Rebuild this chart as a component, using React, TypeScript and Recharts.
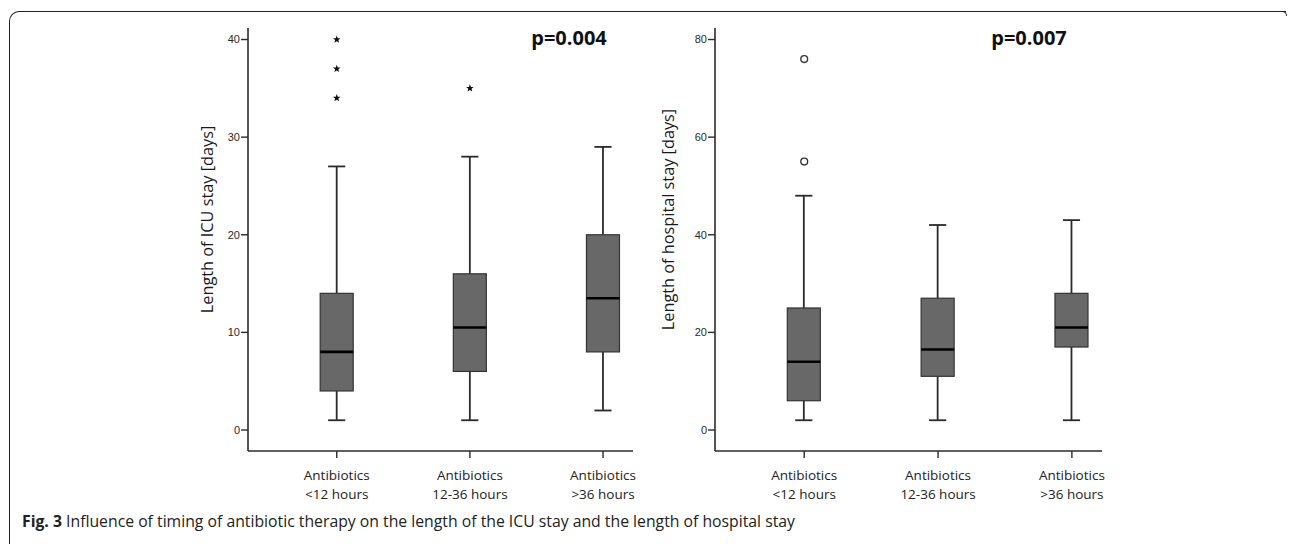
import React from 'react';
import { ComposedChart, Bar, Scatter, XAxis, YAxis, Label } from 'recharts';

// ---- data ----
const groupLine1 = ['Antibiotics', 'Antibiotics', 'Antibiotics'];
const groupLine2 = ['<12 hours', '12-36 hours', '>36 hours'];

const icuMin = [1, 1, 2];
const icuQ1 = [4, 6, 8];
const icuMedian = [8, 10.5, 13.5];
const icuQ3 = [14, 16, 20];
const icuMax = [27, 28, 29];
const icuOutliers = [[34, 37, 40], [35], []];
const icuTicks = [0, 10, 20, 30, 40];

const hospMin = [2, 2, 2];
const hospQ1 = [6, 11, 17];
const hospMedian = [14, 16.5, 21];
const hospQ3 = [25, 27, 28];
const hospMax = [48, 42, 43];
const hospOutliers = [[55, 76], [], []];
const hospTicks = [0, 20, 40, 60, 80];

const pIcu = 'p=0.004';
const pHosp = 'p=0.007';
const yLabelIcu = 'Length of ICU stay [days]';
const yLabelHosp = 'Length of hospital stay [days]';
const captionBold = 'Fig. 3';
const captionText = ' Influence of timing of antibiotic therapy on the length of the ICU stay and the length of hospital stay';

const buildRows = (mn: number[], q1: number[], md: number[], q3: number[], mx: number[]) =>
  groupLine1.map((_, i) => ({ x: i + 1, box: [q1[i], q3[i]], min: mn[i], q1: q1[i], median: md[i], q3: q3[i], max: mx[i] }));
const buildOutliers = (o: number[][]) => o.flatMap((vals, i) => vals.map((v) => ({ x: i + 1, y: v })));

const icuRows = buildRows(icuMin, icuQ1, icuMedian, icuQ3, icuMax);
const hospRows = buildRows(hospMin, hospQ1, hospMedian, hospQ3, hospMax);
const icuOut = buildOutliers(icuOutliers);
const hospOut = buildOutliers(hospOutliers);

const FONT = '"Open Sans", sans-serif';
const DARK = '#2b2b2b';

const BoxShape = (props: any) => {
  const { x, y, width, height, payload } = props;
  if (payload == null || height == null) return null;
  const k = height / (payload.q3 - payload.q1);
  const toY = (v: number) => y + (payload.q3 - v) * k;
  const cx = x + width / 2;
  const cap = width * 0.26;
  return (
    <g>
      <line x1={cx} x2={cx} y1={toY(payload.max)} y2={y} stroke={DARK} strokeWidth={1.8} />
      <line x1={cx} x2={cx} y1={y + height} y2={toY(payload.min)} stroke={DARK} strokeWidth={1.8} />
      <line x1={cx - cap} x2={cx + cap} y1={toY(payload.max)} y2={toY(payload.max)} stroke={DARK} strokeWidth={1.8} />
      <line x1={cx - cap} x2={cx + cap} y1={toY(payload.min)} y2={toY(payload.min)} stroke={DARK} strokeWidth={1.8} />
      <rect x={x} y={y} width={width} height={height} fill="#686868" stroke="#333" strokeWidth={1.2} />
      <line x1={x} x2={x + width} y1={toY(payload.median)} y2={toY(payload.median)} stroke="#000" strokeWidth={2.6} />
    </g>
  );
};

const StarShape = (props: any) => {
  const { cx, cy } = props;
  if (cx == null || cy == null) return null;
  const pts: string[] = [];
  for (let i = 0; i < 10; i++) {
    const r = i % 2 === 0 ? 4 : 1.7;
    const a = -Math.PI / 2 + (i * Math.PI) / 5;
    pts.push(`${cx + r * Math.cos(a)},${cy + r * Math.sin(a)}`);
  }
  return <polygon points={pts.join(' ')} fill="#111" />;
};

const CircleShape = (props: any) => {
  const { cx, cy } = props;
  if (cx == null || cy == null) return null;
  return <circle cx={cx} cy={cy} r={3.4} fill="#fff" stroke="#333" strokeWidth={1.4} />;
};

const XTick = (props: any) => {
  const { x, y, payload } = props;
  const i = Math.round(payload.value) - 1;
  if (i < 0 || i > 2) return null;
  return (
    <g>
      <text x={x} y={y + 20} textAnchor="middle" fontSize={13.5} fill="#222" fontFamily={FONT}>{groupLine1[i]}</text>
      <text x={x} y={y + 39} textAnchor="middle" fontSize={13.5} fill="#222" fontFamily={FONT}>{groupLine2[i]}</text>
    </g>
  );
};

const makeYLabel = (text: string, dx: number, dy: number) => (props: any) => {
  const vb = props.viewBox || {};
  const cx = vb.x + vb.width / 2 + dx;
  const cy = vb.y + vb.height / 2 + dy;
  return (
    <text x={cx} y={cy} transform={`rotate(-90 ${cx} ${cy})`} textAnchor="middle" dominantBaseline="central"
      fontSize={16.3} fill="#1a1a1a" fontFamily={FONT}>{text}</text>
  );
};

interface PanelProps {
  rows: any[];
  outliers: any[];
  ticks: number[];
  domain: [number, number];
  width: number;
  yAxisWidth: number;
  marginRight: number;
  label: string;
  labelDx: number;
  outlierShape: any;
}

const Panel = ({ rows, outliers, ticks, domain, width, yAxisWidth, marginRight, label, labelDx, outlierShape }: PanelProps) => (
  <ComposedChart width={width} height={544} data={rows} margin={{ top: 28, right: marginRight, bottom: 33, left: 0 }}>
    <XAxis dataKey="x" type="number" domain={[1 / 3, 3.225]} ticks={[1, 2, 3]} allowDataOverflow
      axisLine={{ stroke: DARK, strokeWidth: 1.6 }} tickLine={{ stroke: DARK, strokeWidth: 1.4 }} tickSize={7}
      height={60} tick={<XTick />} interval={0} />
    <YAxis type="number" domain={domain} ticks={ticks} allowDataOverflow width={yAxisWidth}
      axisLine={{ stroke: DARK, strokeWidth: 1.6 }} tickLine={{ stroke: DARK, strokeWidth: 1.4 }} tickSize={7} tickMargin={1}
      tick={{ fontSize: 11, fill: '#2a2a2a', fontFamily: 'Liberation Sans, Arial, sans-serif' }}>
      <Label content={makeYLabel(label, labelDx, -20)} />
    </YAxis>
    <Bar dataKey="box" barSize={33} shape={<BoxShape />} isAnimationActive={false} />
    <Scatter data={outliers} dataKey="y" shape={outlierShape} isAnimationActive={false} />
  </ComposedChart>
);

export default function App() {
  return (
    <div style={{ position: 'absolute', left: 0, top: 0, width: 1290, height: 544, overflow: 'hidden', background: '#fff' }}>
      <div style={{ position: 'absolute', left: 9, top: 11, width: 1276, height: 540, borderTop: '1.6px solid #222', borderLeft: '1.6px solid #222', borderTopLeftRadius: 10 }} />
      <div style={{ position: 'absolute', left: 1280, top: 11, width: 6, height: 4, borderTop: '1.6px solid #222', borderRight: '1.6px solid #222', borderTopRightRadius: 5 }} />
      <div style={{ position: 'absolute', left: 0, top: 0 }}>
        <Panel rows={icuRows} outliers={icuOut} ticks={icuTicks} domain={[-2.15, 41.18]} width={650} yAxisWidth={248}
          marginRight={17} label={yLabelIcu} labelDx={83} outlierShape={<StarShape />} />
      </div>
      <div style={{ position: 'absolute', left: 640, top: 0 }}>
        <Panel rows={hospRows} outliers={hospOut} ticks={hospTicks} domain={[-4.3, 82.36]} width={490} yAxisWidth={75}
          marginRight={28} label={yLabelHosp} labelDx={-9.5} outlierShape={<CircleShape />} />
      </div>
      <svg width={1290} height={544} style={{ position: 'absolute', left: 0, top: 0, pointerEvents: 'none' }}>
        <text x={569} y={37} textAnchor="middle" dominantBaseline="central" fontSize={20} fontWeight="bold" fill="#111" fontFamily={FONT}>{pIcu}</text>
        <text x={1029} y={37} textAnchor="middle" dominantBaseline="central" fontSize={20} fontWeight="bold" fill="#111" fontFamily={FONT}>{pHosp}</text>
        <text x={22} y={527} fontSize={16.5} fill="#222" fontFamily={FONT} textLength={773} lengthAdjust="spacingAndGlyphs">
          <tspan fontWeight="bold">{captionBold}</tspan>
          <tspan>{captionText}</tspan>
        </text>
      </svg>
    </div>
  );
}
